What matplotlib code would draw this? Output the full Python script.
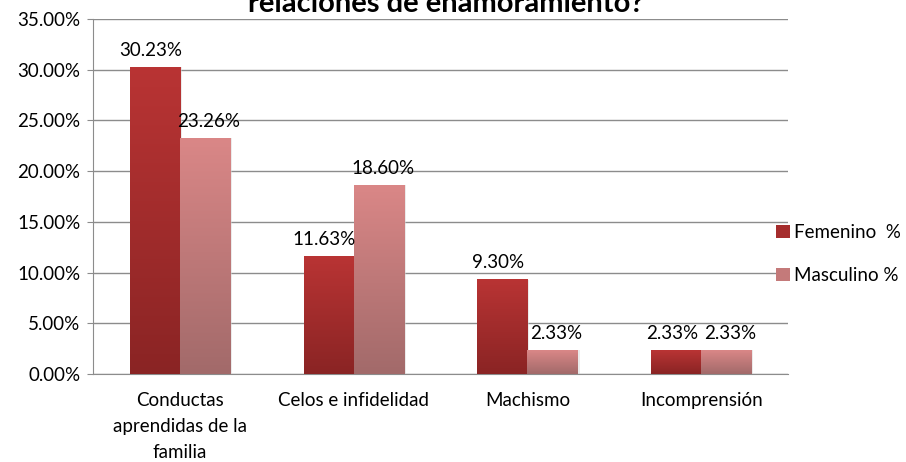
import numpy as np
import matplotlib.pyplot as plt
from matplotlib.colors import LinearSegmentedColormap
from matplotlib.patches import Patch

# --- datos ---
categorias = ['Conductas\naprendidas de la\nfamilia', 'Celos e infidelidad', 'Machismo', 'Incomprensión']
femenino = [30.23, 11.63, 9.30, 2.33]
masculino = [23.26, 18.60, 2.33, 2.33]
series = ['Femenino  %', 'Masculino %']

plt.rcParams['font.family'] = ['Lato', 'DejaVu Sans']
plt.rcParams['font.size'] = 13.5

fig = plt.figure(figsize=(9.06, 4.62), dpi=100)
ax = fig.add_axes([0.1026, 0.1905, 0.7672, 0.7684])

x = np.arange(len(categorias))
w = 0.288

# degradados (abajo -> arriba)
cm_fem = LinearSegmentedColormap.from_list('fem', ['#8a2424', '#b93434'])
cm_mas = LinearSegmentedColormap.from_list('mas', ['#a26a6a', '#da8787'])
grad = np.linspace(0, 1, 256).reshape(-1, 1)

def barra_degradado(x0, alto, cmap):
    # sombra suave a la derecha
    ax.bar(x0 + 0.012, alto, width=w, align='edge', color='#d9d9d9', alpha=0.5, zorder=2, lw=0)
    ax.imshow(grad, extent=[x0, x0 + w, 0, alto], origin='lower', cmap=cmap,
              aspect='auto', zorder=3)

for i in range(len(categorias)):
    barra_degradado(x[i] - w, femenino[i], cm_fem)
    barra_degradado(x[i], masculino[i], cm_mas)
    ax.annotate(f'{femenino[i]:.2f}%', (x[i] - w / 2, femenino[i]), xytext=(-3, 6),
                textcoords='offset points', ha='center', va='bottom')
    ax.annotate(f'{masculino[i]:.2f}%', (x[i] + w / 2, masculino[i]), xytext=(3, 6),
                textcoords='offset points', ha='center', va='bottom')

ax.set_xlim(-0.5, len(categorias) - 0.5)
ax.set_ylim(0, 35)
ax.set_yticks(np.arange(0, 36, 5))
ax.set_yticklabels([f'{v:.2f}%' for v in np.arange(0, 36, 5)])
ax.set_xticks(x)
ax.set_xticklabels(categorias, linespacing=1.65)
ax.tick_params(axis='x', length=0, pad=13)
ax.tick_params(axis='y', length=4, color='#8c8c8c', pad=5)

ax.grid(axis='y', color='#8c8c8c', linewidth=1)
ax.set_axisbelow(True)
for s in ['top', 'right']:
    ax.spines[s].set_visible(False)
for s in ['left', 'bottom']:
    ax.spines[s].set_color('#8c8c8c')

# título (recortado arriba, como en la imagen original)
fig.text(0.492, 1 - 12 / 462, 'relaciones de enamoramiento?', ha='center', va='baseline',
         fontsize=21, fontweight='bold')

handles = [Patch(facecolor='#a52d2d'), Patch(facecolor='#c47a7a')]
fig.legend(handles, series, loc='center left', bbox_to_anchor=(0.857, 0.45),
           frameon=False, borderpad=0, borderaxespad=0, handlelength=0.7,
           handleheight=0.7, handletextpad=0.25, labelspacing=1.4)

fig.savefig('out.png', dpi=100)
